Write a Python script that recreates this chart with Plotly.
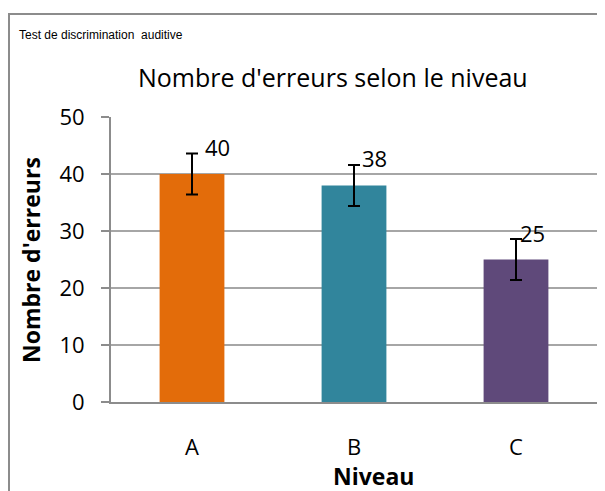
import plotly.graph_objects as go

niveaux = ["A", "B", "C"]
erreurs = [40, 38, 25]
ecart = [3.6, 3.6, 3.6]
couleurs = ["#E36C0A", "#31859C", "#5F497A"]

font = "'Open Sans', Lato, sans-serif"

# la page a une marge de 8 px : zone de tracé x 103..589, y 109..394
L, R, T, B = 103, 589, 109, 394


def px(x):
    return (x - 8 - L) / (R - L)


def py(y):
    return (B - (y - 8)) / (B - T)


fig = go.Figure()
fig.add_trace(go.Bar(
    x=niveaux, y=erreurs,
    marker=dict(color=couleurs, line=dict(width=0)),
    error_y=dict(type="data", array=ecart, color="black", thickness=2, width=6),
))

# étiquettes de données (déplacées à droite des barres d'erreur)
for niv, val, dx in zip(niveaux, erreurs, [25, 20, 16]):
    fig.add_annotation(x=niv, y=val, text=str(val), showarrow=False,
                       xshift=dx, yshift=27, font=dict(size=22, color="black"))

fig.add_annotation(text="Nombre d'erreurs selon le niveau", xref="paper", yref="paper",
                   x=px(333), y=py(77), xanchor="center", yanchor="middle", showarrow=False,
                   font=dict(size=25, color="black"))
fig.add_annotation(text="Test de discrimination  auditive", xref="paper", yref="paper",
                   x=px(17), y=py(35), xanchor="left", yanchor="middle", showarrow=False,
                   font=dict(size=12, color="black", family="'Liberation Sans Narrow', 'Liberation Sans', sans-serif"))
fig.add_annotation(text="<b>Niveau</b>", xref="paper", yref="paper",
                   x=px(373), y=py(476), xanchor="center", yanchor="middle", showarrow=False,
                   font=dict(size=23, color="black"))
fig.add_annotation(text="<b>Nombre d'erreurs</b>", xref="paper", yref="paper",
                   x=px(31), y=py(260), xanchor="center", yanchor="middle", textangle=-90,
                   showarrow=False, font=dict(size=23, color="black"))

# cadre du graphique
fig.add_shape(type="rect", xref="paper", yref="paper",
              x0=px(9), x1=1.2, y0=-0.4, y1=py(14),
              line=dict(color="#8c8c8c", width=2))

fig.update_layout(
    width=597, height=483,
    margin=dict(l=L, r=597 - R, t=T, b=483 - B),
    paper_bgcolor="white", plot_bgcolor="white",
    font=dict(family=font, color="black"),
    bargap=0.6, showlegend=False,
)
fig.update_xaxes(showline=True, linecolor="#8c8c8c", linewidth=2, ticks="",
                 tickfont=dict(size=22), ticklabelstandoff=25)
fig.update_yaxes(range=[0, 50], dtick=10, showgrid=True, gridcolor="#a6a6a6", gridwidth=1.5,
                 showline=True, linecolor="#8c8c8c", linewidth=2, ticks="outside",
                 ticklen=8, tickcolor="#8c8c8c", tickwidth=1.5, zeroline=False,
                 tickfont=dict(size=22), ticklabelstandoff=12)

fig.write_html("out.html")
